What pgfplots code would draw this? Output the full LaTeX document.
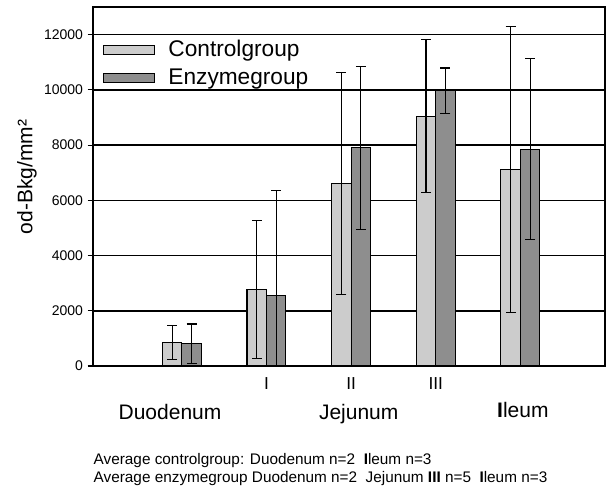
\documentclass[border=0pt]{standalone}
\usepackage{fontspec}
\setmainfont{Liberation Sans}
\usepackage{pgfplots}
\usepackage{pgfplotstable}
\pgfplotsset{compat=1.18}

\definecolor{ctrlgray}{RGB}{204,204,204}
\definecolor{enzgray}{RGB}{142,142,142}

% x: 0 Duodenum, 1 Jejunum I, 2 Jejunum II, 3 Jejunum III, 4 Ileum
\pgfplotstableread{
x y err
0 845 605
1 2775 2495
2 6620 4020
3 9050 2780
4 7110 5180
}\controltab
\pgfplotstableread{
x y err
0 810 712
1 2563 3790
2 7900 2955
3 9960 830
4 7850 3275
}\enzymetab

\begin{document}
\begin{tikzpicture}
\path[use as bounding box] (-69.75pt,-92.25pt) rectangle (387.75pt,274.5pt);
\begin{axis}[
    at={(0pt,0pt)}, anchor=south west,
    scale only axis,
    width=384pt, height=269.25pt,
    xmin=-1.05, xmax=5,
    ymin=0, ymax=13000,
    ybar=0pt, bar width=14.6pt,
    clip mode=individual,
    axis line style={line width=1pt},
    ytick={0,2000,...,12000},
    scaled y ticks=false,
    ymajorgrids=true,
    grid style={black, line width=1.2pt},
    ytick pos=left,
    tick align=outside,
    major tick length=4pt,
    ytick style={black, line width=0.8pt},
    yticklabel style={font=\fontsize{10.5}{12}\selectfont, /pgf/number format/1000 sep={}},
    /pgf/number format/assume math mode=true,
    xtick={1,2,3},
    xticklabels={I,II,III},
    x tick style={draw=none},
    xticklabel style={font=\fontsize{13}{15}\selectfont, anchor=base, yshift=-13.5pt},
    legend cell align=left,
    legend image code/.code={\draw[#1, line width=0.8pt] (0pt,-3.4pt) rectangle (38pt,3.4pt);},
    legend style={
        at={(rel axis cs:0.012,0.916)}, anchor=north west,
        draw=none, fill=none,
        font=\fontsize{17}{20}\selectfont,
        nodes={inner ysep=0pt, text height=12pt, text depth=3.5pt},
        row sep=5.5pt,
        /tikz/every odd column/.append style={column sep=8pt},
    },
]
\addplot[fill=ctrlgray, draw=black, line width=0.8pt,
    error bars/.cd, y dir=both, y explicit,
    error bar style={black, line width=0.8pt},
    error mark options={rotate=90, black, line width=0.8pt, mark size=3.75pt}]
    table[x=x, y=y, y error=err] {\controltab};
\addplot[fill=enzgray, draw=black, line width=0.8pt,
    error bars/.cd, y dir=both, y explicit,
    error bar style={black, line width=0.8pt},
    error mark options={rotate=90, black, line width=0.8pt, mark size=3.75pt}]
    table[x=x, y=y, y error=err] {\enzymetab};
\legend{Controlgroup, Enzymegroup}

\node[font=\fontsize{15.75}{18}\selectfont, anchor=base] at (axis cs:-0.14,0) [yshift=-39.75pt] {Duodenum};
\node[font=\fontsize{15.75}{18}\selectfont, anchor=base] at (axis cs:2.09,0) [yshift=-39.75pt] {Jejunum};
\node[font=\fontsize{15.75}{18}\selectfont, anchor=base] at (axis cs:4.03,0) [yshift=-38.5pt] {{\bfseries I}leum};

\node[font=\fontsize{15.75}{18}\selectfont, rotate=90, anchor=center] at (rel axis cs:-0.129,0.526) {od-Bkg/mm²};

\node[font=\fontsize{11.5}{14}\selectfont, anchor=base west] at (rel axis cs:0,0) [xshift=-3pt, yshift=-73.5pt]
    {Average controlgroup: Duodenum n=2\ \ {\bfseries I}leum n=3};
\node[font=\fontsize{11.5}{14}\selectfont, anchor=base west] at (rel axis cs:0,0) [xshift=-3pt, yshift=-87.5pt]
    {Average enzymegroup Duodenum n=2\ \ Jejunum {\bfseries III} n=5\ \ {\bfseries I}leum n=3};
\end{axis}
\end{tikzpicture}
\end{document}
